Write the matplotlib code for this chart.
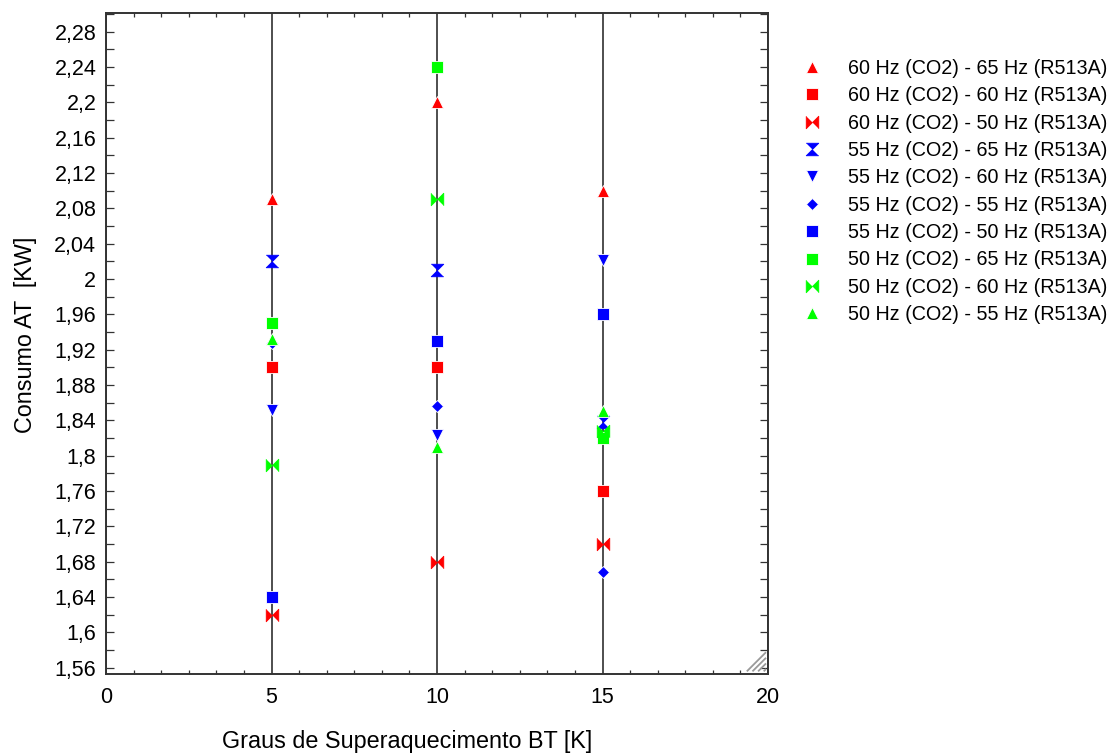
import numpy as np
import matplotlib
matplotlib.use('Agg')
import matplotlib.pyplot as plt
from matplotlib.ticker import MultipleLocator, FuncFormatter

plt.rcParams['font.family'] = ['Liberation Sans', 'DejaVu Sans']

# superaquecimento BT [K]
graus = [5, 10, 15]

# consumo AT [kW] por combinação de frequências
rotulos = ['60 Hz (CO2) - 65 Hz (R513A)',
           '60 Hz (CO2) - 60 Hz (R513A)',
           '60 Hz (CO2) - 50 Hz (R513A)',
           '55 Hz (CO2) - 65 Hz (R513A)',
           '55 Hz (CO2) - 60 Hz (R513A)',
           '55 Hz (CO2) - 55 Hz (R513A)',
           '55 Hz (CO2) - 50 Hz (R513A)',
           '50 Hz (CO2) - 65 Hz (R513A)',
           '50 Hz (CO2) - 60 Hz (R513A)',
           '50 Hz (CO2) - 55 Hz (R513A)']

c60_65 = [2.09, 2.20, 2.10]
c60_60 = [1.90, 1.90, 1.76]
c60_50 = [1.62, 1.68, 1.70]
c55_65 = [2.02, 2.01, 1.838]
c55_60 = [1.852, 1.823, 2.022]
c55_55 = [1.928, 1.856, 1.668]
c55_50 = [1.64, 1.93, 1.96]
c50_65 = [1.95, 2.24, 1.82]
c50_60 = [1.79, 2.09, 1.828]
c50_55 = [1.932, 1.81, 1.851]

series = [c60_65, c60_60, c60_50, c55_65, c55_60, c55_55, c55_50, c50_65, c50_60, c50_55]

laco = [(-1, 1), (-1, -1), (1, 1), (1, -1)]      # bowtie horizontal
ampulheta = [(-1, 1), (1, 1), (-1, -1), (1, -1)]  # bowtie vertical

estilos = [('#ff0000', '^', 9.3), ('#ff0000', 's', 9.0), ('#ff0000', laco, 9.0),
           ('#0000ff', ampulheta, 9.0), ('#0000ff', 'v', 9.3), ('#0000ff', 'D', 6.4),
           ('#0000ff', 's', 9.0), ('#00ff00', 's', 9.0), ('#00ff00', laco, 9.0),
           ('#00ff00', '^', 9.3)]

fig = plt.figure(figsize=(11.15, 7.54), dpi=100)
ax = fig.add_axes([0.0951, 0.1061, 0.5937, 0.8767])

handles = []
for vals, lab, (cor, mk, ms) in zip(series, rotulos, estilos):
    borda = cor if isinstance(mk, list) else 'white'
    h, = ax.plot(graus, vals, linestyle='none', marker=mk, markersize=ms,
                 color=cor, markeredgecolor=borda, markeredgewidth=0.6,
                 label=lab, zorder=3)
    handles.append(h)

ax.set_xlim(0, 20)
ax.set_ylim(1.553, 2.301)
ax.xaxis.set_major_locator(MultipleLocator(5))
ax.xaxis.set_minor_locator(MultipleLocator(5 / 6))
ax.yaxis.set_major_locator(MultipleLocator(0.04))
ax.yaxis.set_minor_locator(MultipleLocator(0.02))


def virgula(v, pos):
    s = f'{v:.2f}'.rstrip('0').rstrip('.')
    return s.replace('.', ',')


ax.yaxis.set_major_formatter(FuncFormatter(virgula))
ax.xaxis.grid(True, which='major', color='#1e1e1e', linewidth=1.1, zorder=1)

ax.tick_params(axis='both', which='both', direction='in', top=True, right=True,
               width=0.9, color='#333333', labelsize=15.5)
ax.tick_params(axis='y', which='both', length=5.5, pad=7)
ax.tick_params(axis='x', which='major', length=0, pad=9)
ax.tick_params(axis='x', which='minor', length=2.6)
for sp in ax.spines.values():
    sp.set_linewidth(1.4)
    sp.set_color('#333333')

ax.set_xlabel('Graus de Superaquecimento BT [K]', fontsize=16.8)
ax.set_ylabel('Consumo AT  [KW]', fontsize=16.8)
ax.xaxis.set_label_coords(0.455, -0.084)
ax.yaxis.set_label_coords(-0.105, 0.513)

# canto de redimensionar (riscos cinzentos)
for k in range(4):
    d = k * 0.0085
    ax.plot([0.968 + d, 0.997], [0.004, 0.033 - d], transform=ax.transAxes,
            color='#9a9a9a', linewidth=1.3, solid_capstyle='butt', clip_on=False, zorder=2)

fig.legend(handles=handles, loc='upper left', bbox_to_anchor=(0.7195, 0.922),
           frameon=False, fontsize=14.2, handlelength=1.0, handletextpad=1.3,
           labelspacing=0.425, borderpad=0, borderaxespad=0, numpoints=1)

fig.savefig('out.png', dpi=100)
